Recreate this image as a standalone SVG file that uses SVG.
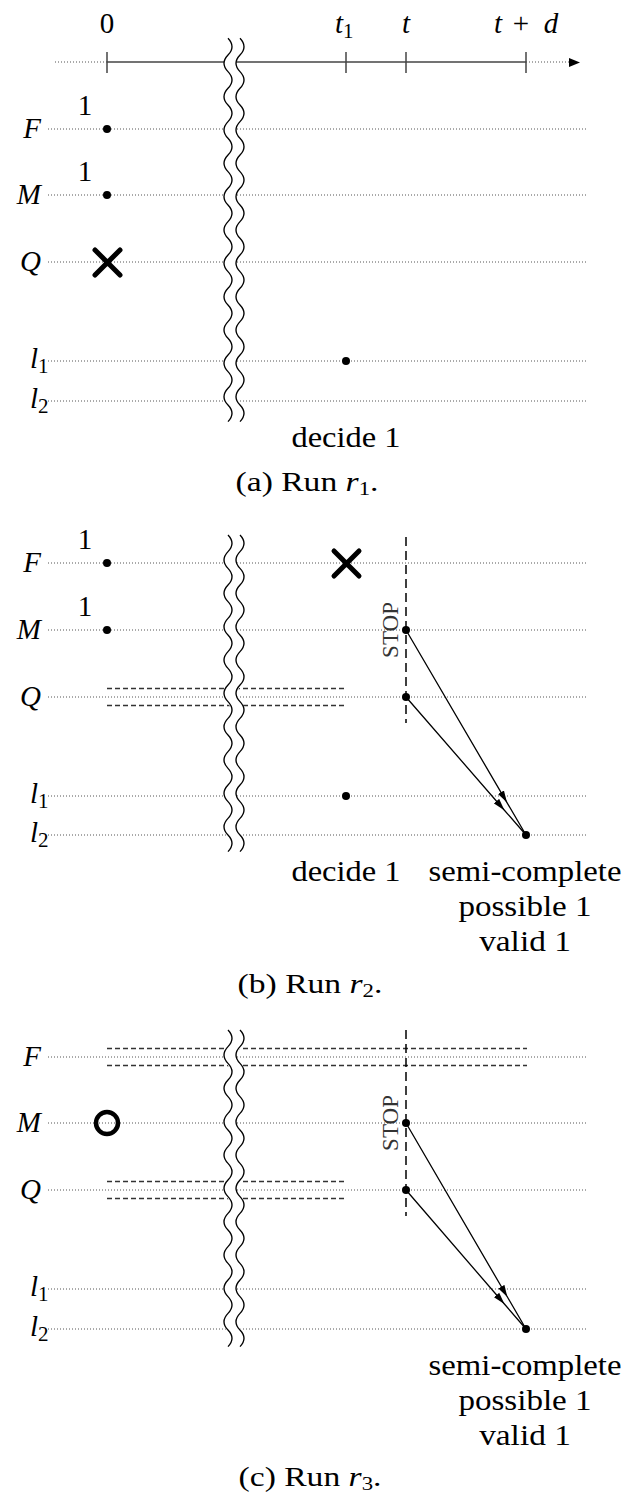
<svg xmlns="http://www.w3.org/2000/svg" width="624" height="1495" viewBox="0 0 624 1495" font-family="'Liberation Serif', 'DejaVu Serif', serif">
<style>
text{font-family:'Liberation Serif','DejaVu Serif','Noto Serif',serif;font-size:29px;fill:#000}
.it{font-style:italic}
.cap{font-size:28px}
.row{fill:none;stroke:#555;stroke-width:1;stroke-dasharray:1 2}
.axis{stroke:#444;stroke-width:1.5;fill:none}
.adot{stroke:#555;stroke-width:1.2;stroke-dasharray:1 2;fill:none}
.wave{fill:none;stroke:#000;stroke-width:1.3}
.cover{fill:none;stroke:#fff;stroke-width:12}
.dot{fill:#000}
.mark{stroke:#000;stroke-width:5;stroke-linecap:round;fill:none}
.dbl{stroke:#333;stroke-width:1.5;stroke-dasharray:5 3;fill:none}
.stopl{stroke:#000;stroke-width:1.5;stroke-dasharray:9 5;fill:none}
.arr{stroke:#000;stroke-width:1.3;fill:none;marker-mid:url(#ah)}
.stop{font-size:23px;fill:#333}
</style>
<defs>
<marker id="ah" markerUnits="userSpaceOnUse" viewBox="0 0 12 8" refX="12" refY="4" markerWidth="12" markerHeight="8" orient="auto"><path d="M0,0.5 L12,4 L0,7.5 z" fill="#000"/></marker>
<path id="w23" d="M0,0 q8,8.333 0,16.667 t0,16.667 t0,16.667 t0,16.667 t0,16.667 t0,16.667 t0,16.667 t0,16.667 t0,16.667 t0,16.667 t0,16.667 t0,16.667 t0,16.667 t0,16.667 t0,16.667 t0,16.667 t0,16.667 t0,16.667 t0,16.667 t0,16.667 t0,16.667 t0,16.667 t0,16.667"/>
<path id="w19" d="M0,0 q8,8.333 0,16.667 t0,16.667 t0,16.667 t0,16.667 t0,16.667 t0,16.667 t0,16.667 t0,16.667 t0,16.667 t0,16.667 t0,16.667 t0,16.667 t0,16.667 t0,16.667 t0,16.667 t0,16.667 t0,16.667 t0,16.667 t0,16.667"/>
</defs>
<rect width="624" height="1495" fill="#fff"/>

<!-- Panel (a) -->
<g id="axis">
<line class="adot" x1="55" y1="62" x2="107" y2="62"/>
<line class="axis" x1="107" y1="62" x2="526" y2="62"/>
<line class="adot" x1="526" y1="62" x2="569" y2="62"/>
<path d="M569,58 L580,62.5 L569,67 z" fill="#000"/>
<line class="axis" x1="107" y1="52" x2="107" y2="73"/>
<line class="axis" x1="346" y1="52" x2="346" y2="73"/>
<line class="axis" x1="406" y1="52" x2="406" y2="73"/>
<line class="axis" x1="526" y1="52" x2="526" y2="73"/>
<text x="107" y="33" text-anchor="middle">0</text>
<text x="335" y="33"><tspan class="it">t</tspan><tspan font-size="21" dy="5">1</tspan></text>
<text x="406" y="33" text-anchor="middle" class="it">t</text>
<text x="498" y="33" text-anchor="middle" class="it">t</text>
<text x="521" y="33" text-anchor="middle">+</text>
<text x="551" y="33" text-anchor="middle" class="it">d</text>
</g>

<g id="rows-a">
<line class="row" x1="48" y1="129" x2="588" y2="129"/>
<line class="row" x1="48" y1="195" x2="588" y2="195"/>
<line class="row" x1="48" y1="262" x2="588" y2="262"/>
<line class="row" x1="48" y1="361" x2="588" y2="361"/>
<line class="row" x1="48" y1="401" x2="588" y2="401"/>
<text x="41" y="138" text-anchor="end" class="it">F</text>
<text x="41" y="204" text-anchor="end" class="it">M</text>
<text x="41" y="271" text-anchor="end" class="it">Q</text>
<text x="30" y="368"><tspan class="it">l</tspan><tspan font-size="21" dy="5">1</tspan></text>
<text x="30" y="408"><tspan class="it">l</tspan><tspan font-size="21" dy="5">2</tspan></text>
</g>

<g id="break-a">
<use href="#w23" x="234" y="38.3" class="cover"/>
<use href="#w23" x="228" y="38.3" class="wave"/>
<use href="#w23" x="240" y="38.3" class="wave"/>
</g>

<g id="a-F"><text x="85" y="115" text-anchor="middle">1</text><circle class="dot" cx="107" cy="129" r="4"/></g>
<g id="a-M"><text x="85" y="181" text-anchor="middle">1</text><circle class="dot" cx="107" cy="195" r="4"/></g>
<g id="a-Q"><path class="mark" d="M95,250 L120,275 M120,250 L95,275"/></g>
<g id="a-l1"><circle class="dot" cx="346" cy="361" r="4"/></g>
<g id="a-decide"><text transform="translate(346,447) scale(1.12,1)" text-anchor="middle">decide 1</text></g>
<g id="cap-a"><text class="cap" transform="translate(307,491) scale(1.2,1)" text-anchor="middle">(a) Run <tspan class="it">r</tspan><tspan font-size="19" dy="4">1</tspan><tspan dy="-4">.</tspan></text></g>

<!-- Panel (b) -->
<g id="rows-b">
<line class="row" x1="48" y1="563" x2="588" y2="563"/>
<line class="row" x1="48" y1="630" x2="588" y2="630"/>
<line class="row" x1="48" y1="697" x2="588" y2="697"/>
<line class="row" x1="48" y1="796" x2="588" y2="796"/>
<line class="row" x1="48" y1="835" x2="588" y2="835"/>
<text x="41" y="572" text-anchor="end" class="it">F</text>
<text x="41" y="639" text-anchor="end" class="it">M</text>
<text x="41" y="706" text-anchor="end" class="it">Q</text>
<text x="30" y="803"><tspan class="it">l</tspan><tspan font-size="21" dy="5">1</tspan></text>
<text x="30" y="842"><tspan class="it">l</tspan><tspan font-size="21" dy="5">2</tspan></text>
</g>
<g id="b-Qdbl">
<line class="dbl" x1="107" y1="688.5" x2="344" y2="688.5"/>
<line class="dbl" x1="107" y1="705.5" x2="344" y2="705.5"/>
</g>
<g id="break-b">
<use href="#w19" x="234" y="535" class="cover"/>
<use href="#w19" x="228" y="535" class="wave"/>
<use href="#w19" x="240" y="535" class="wave"/>
</g>
<g id="b-F"><text x="85" y="549" text-anchor="middle">1</text><circle class="dot" cx="107" cy="563" r="4"/></g>
<g id="b-M"><text x="85" y="616" text-anchor="middle">1</text><circle class="dot" cx="107" cy="630" r="4"/></g>
<g id="b-Fx"><path class="mark" d="M334,551 L359,576 M359,551 L334,576"/></g>
<g id="b-stop">
<line class="stopl" x1="406" y1="537" x2="406" y2="723"/>
<text class="stop" transform="translate(398,630) rotate(-90)" text-anchor="middle">STOP</text>
</g>
<g id="b-Mt"><circle class="dot" cx="406" cy="630" r="4"/></g>
<g id="b-Qt"><circle class="dot" cx="406" cy="697" r="4"/></g>
<g id="b-l1"><circle class="dot" cx="346" cy="796" r="4"/></g>
<g id="b-l2"><circle class="dot" cx="526" cy="835" r="4"/></g>
<g id="b-decide"><text transform="translate(346,881) scale(1.12,1)" text-anchor="middle">decide 1</text></g>
<g id="b-result">
<text transform="translate(525,881) scale(1.13,1)" text-anchor="middle">semi-complete</text>
<text transform="translate(525,916) scale(1.14,1)" text-anchor="middle">possible 1</text>
<text transform="translate(525,951) scale(1.15,1)" text-anchor="middle">valid 1</text>
</g>
<g id="cap-b"><text class="cap" transform="translate(310,993) scale(1.2,1)" text-anchor="middle">(b) Run <tspan class="it">r</tspan><tspan font-size="19" dy="4">2</tspan><tspan dy="-4">.</tspan></text></g>

<!-- Panel (c) -->
<g id="rows-c">
<line class="row" x1="48" y1="1057" x2="588" y2="1057"/>
<line class="row" x1="48" y1="1123" x2="588" y2="1123"/>
<line class="row" x1="48" y1="1190" x2="588" y2="1190"/>
<line class="row" x1="48" y1="1289" x2="588" y2="1289"/>
<line class="row" x1="48" y1="1329" x2="588" y2="1329"/>
<text x="41" y="1066" text-anchor="end" class="it">F</text>
<text x="41" y="1132" text-anchor="end" class="it">M</text>
<text x="41" y="1199" text-anchor="end" class="it">Q</text>
<text x="30" y="1296"><tspan class="it">l</tspan><tspan font-size="21" dy="5">1</tspan></text>
<text x="30" y="1336"><tspan class="it">l</tspan><tspan font-size="21" dy="5">2</tspan></text>
</g>
<g id="c-Fdbl">
<line class="dbl" x1="107" y1="1048.5" x2="527" y2="1048.5"/>
<line class="dbl" x1="107" y1="1065.5" x2="527" y2="1065.5"/>
</g>
<g id="c-Qdbl">
<line class="dbl" x1="107" y1="1181.5" x2="344" y2="1181.5"/>
<line class="dbl" x1="107" y1="1198.5" x2="344" y2="1198.5"/>
</g>
<g id="break-c">
<use href="#w19" x="234" y="1030" class="cover"/>
<use href="#w19" x="228" y="1030" class="wave"/>
<use href="#w19" x="240" y="1030" class="wave"/>
</g>
<g id="c-M"><circle cx="107" cy="1123" r="11" fill="none" stroke="#000" stroke-width="4.5"/></g>
<g id="c-stop">
<line class="stopl" x1="406" y1="1030" x2="406" y2="1216"/>
<text class="stop" transform="translate(398,1123) rotate(-90)" text-anchor="middle">STOP</text>
</g>
<g id="c-Mt"><circle class="dot" cx="406" cy="1123" r="4"/></g>
<g id="c-Qt"><circle class="dot" cx="406" cy="1190" r="4"/></g>
<g id="c-l2"><circle class="dot" cx="526" cy="1329" r="4"/></g>
<g id="c-result">
<text transform="translate(525,1375) scale(1.13,1)" text-anchor="middle">semi-complete</text>
<text transform="translate(525,1410) scale(1.14,1)" text-anchor="middle">possible 1</text>
<text transform="translate(525,1445) scale(1.15,1)" text-anchor="middle">valid 1</text>
</g>
<g id="cap-c"><text class="cap" transform="translate(310,1486) scale(1.2,1)" text-anchor="middle">(c) Run <tspan class="it">r</tspan><tspan font-size="19" dy="4">3</tspan><tspan dy="-4">.</tspan></text></g>

<g id="connectors">
<path class="arr" d="M406,630 L507,802.6 L526,835"/>
<path class="arr" d="M406,697 L504.4,810.2 L526,835"/>
<path class="arr" d="M406,1123 L507.4,1297 L526,1329"/>
<path class="arr" d="M406,1190 L504.4,1304 L526,1329"/>
</g>
</svg>
